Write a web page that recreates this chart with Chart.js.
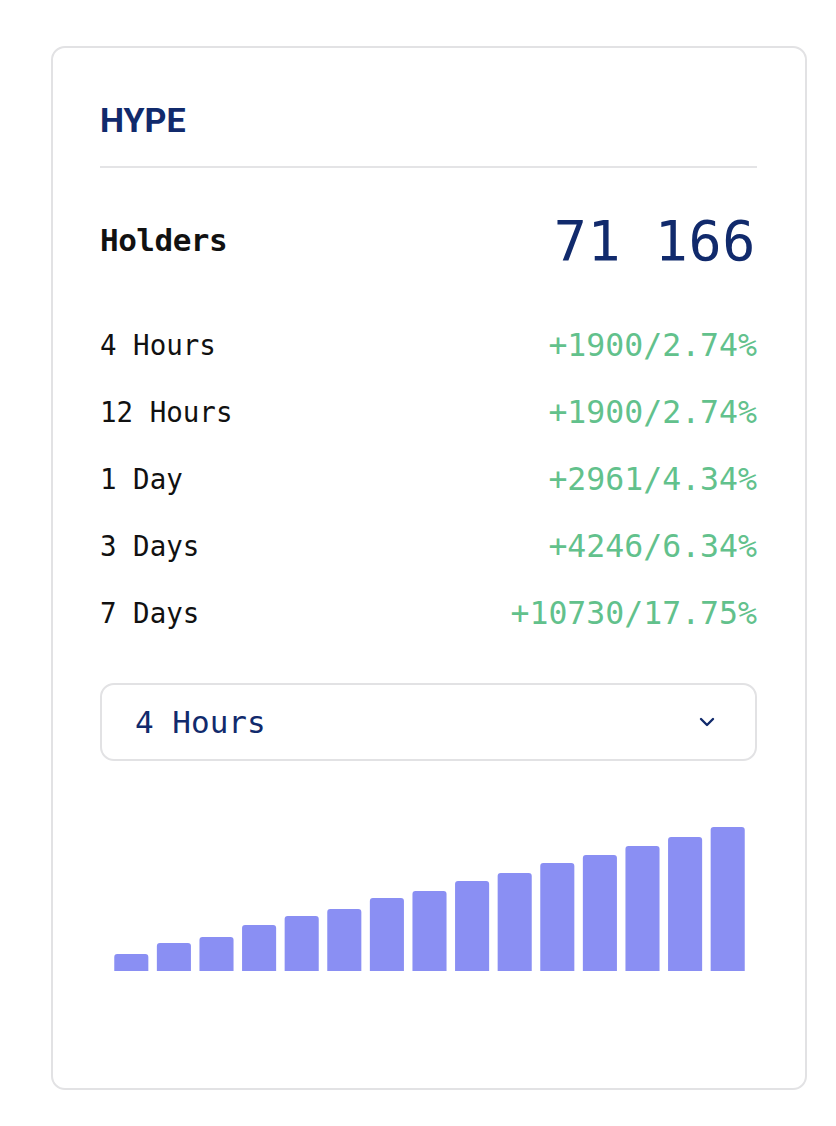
<!DOCTYPE html>
<html>
<head>
<meta charset="utf-8">
<script src="https://cdn.jsdelivr.net/npm/chart.js@4/dist/chart.umd.min.js"></script>
<style>
  html, body { margin: 0; padding: 0; background: #fff; }
  body { width: 836px; height: 1126px; position: relative; overflow: hidden; }
  .card {
    position: absolute; left: 51px; top: 46px; width: 752px; height: 1040px;
    border: 2px solid #e2e2e4; border-radius: 14px; background: #fff;
  }
  .t { position: absolute; white-space: nowrap; }
  .title { left: 100px; top: 100px; height: 40px; line-height: 40px;
    font-family: Roboto, sans-serif; font-weight: 700; font-size: 34px; color: #112a6c; }
  .rule { position: absolute; left: 100px; top: 166px; width: 657px; height: 2px; background: #e4e4e6; }
  .mono { font-family: "DejaVu Sans Mono", monospace; }
  .holders { left: 100px; top: 220px; height: 40px; line-height: 40px; font-size: 31px; font-weight: 600; color: #111; letter-spacing: -0.5px; }
  .total { right: 80px; top: 210px; height: 62px; line-height: 62px; font-size: 55px; color: #112a6c; letter-spacing: 0.6px; }
  .lbl { left: 100px; height: 36px; line-height: 36px; font-size: 27.5px; color: #111; }
  .chg { right: 79px; height: 36px; line-height: 36px; font-size: 31.5px; color: #62c18c; }
  .select {
    position: absolute; left: 100px; top: 683px; width: 653px; height: 74px;
    border: 2px solid #e2e2e4; border-radius: 14px;
  }
  .select .v { position: absolute; left: 33px; top: 19px; height: 36px; line-height: 36px;
    font-size: 31px; color: #112a6c; }
  .select svg { position: absolute; left: 596px; top: 31px; }
  #wrap { position: absolute; left: 110px; top: 810px; width: 639px; height: 161px; }
</style>
</head>
<body>
<div class="card"></div>
<div class="t title">HYPE</div>
<div class="rule"></div>
<div class="t mono holders">Holders</div>
<div class="t mono total" id="total"></div>
<div id="rows"></div>
<div class="select">
  <div class="t mono v" id="sel"></div>
  <svg width="18" height="12" viewBox="0 0 18 12"><polyline points="3,3 9,9 15,3" fill="none" stroke="#112a6c" stroke-width="2.4" stroke-linecap="round" stroke-linejoin="round"/></svg>
</div>
<div id="wrap"><canvas id="chart"></canvas></div>
<script>
var holders = "71 166";
var periods = ["4 Hours", "12 Hours", "1 Day", "3 Days", "7 Days"];
var changes = ["+1900/2.74%", "+1900/2.74%", "+2961/4.34%", "+4246/6.34%", "+10730/17.75%"];
var selected = "4 Hours";

var barLabels = ["1", "2", "3", "4", "5", "6", "7", "8", "9", "10", "11", "12", "13", "14", "15"];
var barValues = [17, 28, 34, 46, 55, 62, 73, 80, 90, 98, 108, 116, 125, 134, 144];

document.getElementById("total").textContent = holders;
document.getElementById("sel").textContent = selected;

var rows = document.getElementById("rows");
for (var i = 0; i < periods.length; i++) {
  var rowTop = 327 + i * 67;
  var l = document.createElement("div");
  l.className = "t mono lbl";
  l.style.top = rowTop + "px";
  l.textContent = periods[i];
  rows.appendChild(l);
  var r = document.createElement("div");
  r.className = "t mono chg";
  r.style.top = rowTop + "px";
  r.textContent = changes[i];
  rows.appendChild(r);
}

var myChart = new Chart(document.getElementById("chart"), {
  type: 'bar',
  data: {
    labels: barLabels,
    datasets: [
      {
        label: 'Holders',
        backgroundColor: '#8a8ff3',
        borderRadius: { topLeft: 3, topRight: 3 },
        borderSkipped: 'bottom',
        barPercentage: 0.8,
        categoryPercentage: 1.0,
        data: barValues
      }
    ]
  },
  options: {
    responsive: true,
    maintainAspectRatio: false,
    animation: false,
    layout: { padding: 0 },
    plugins: { legend: { display: false }, tooltip: { enabled: false } },
    scales: {
      x: { display: false },
      y: { display: false, min: 0, max: 161 }
    }
  }
});
</script>
</body>
</html>
